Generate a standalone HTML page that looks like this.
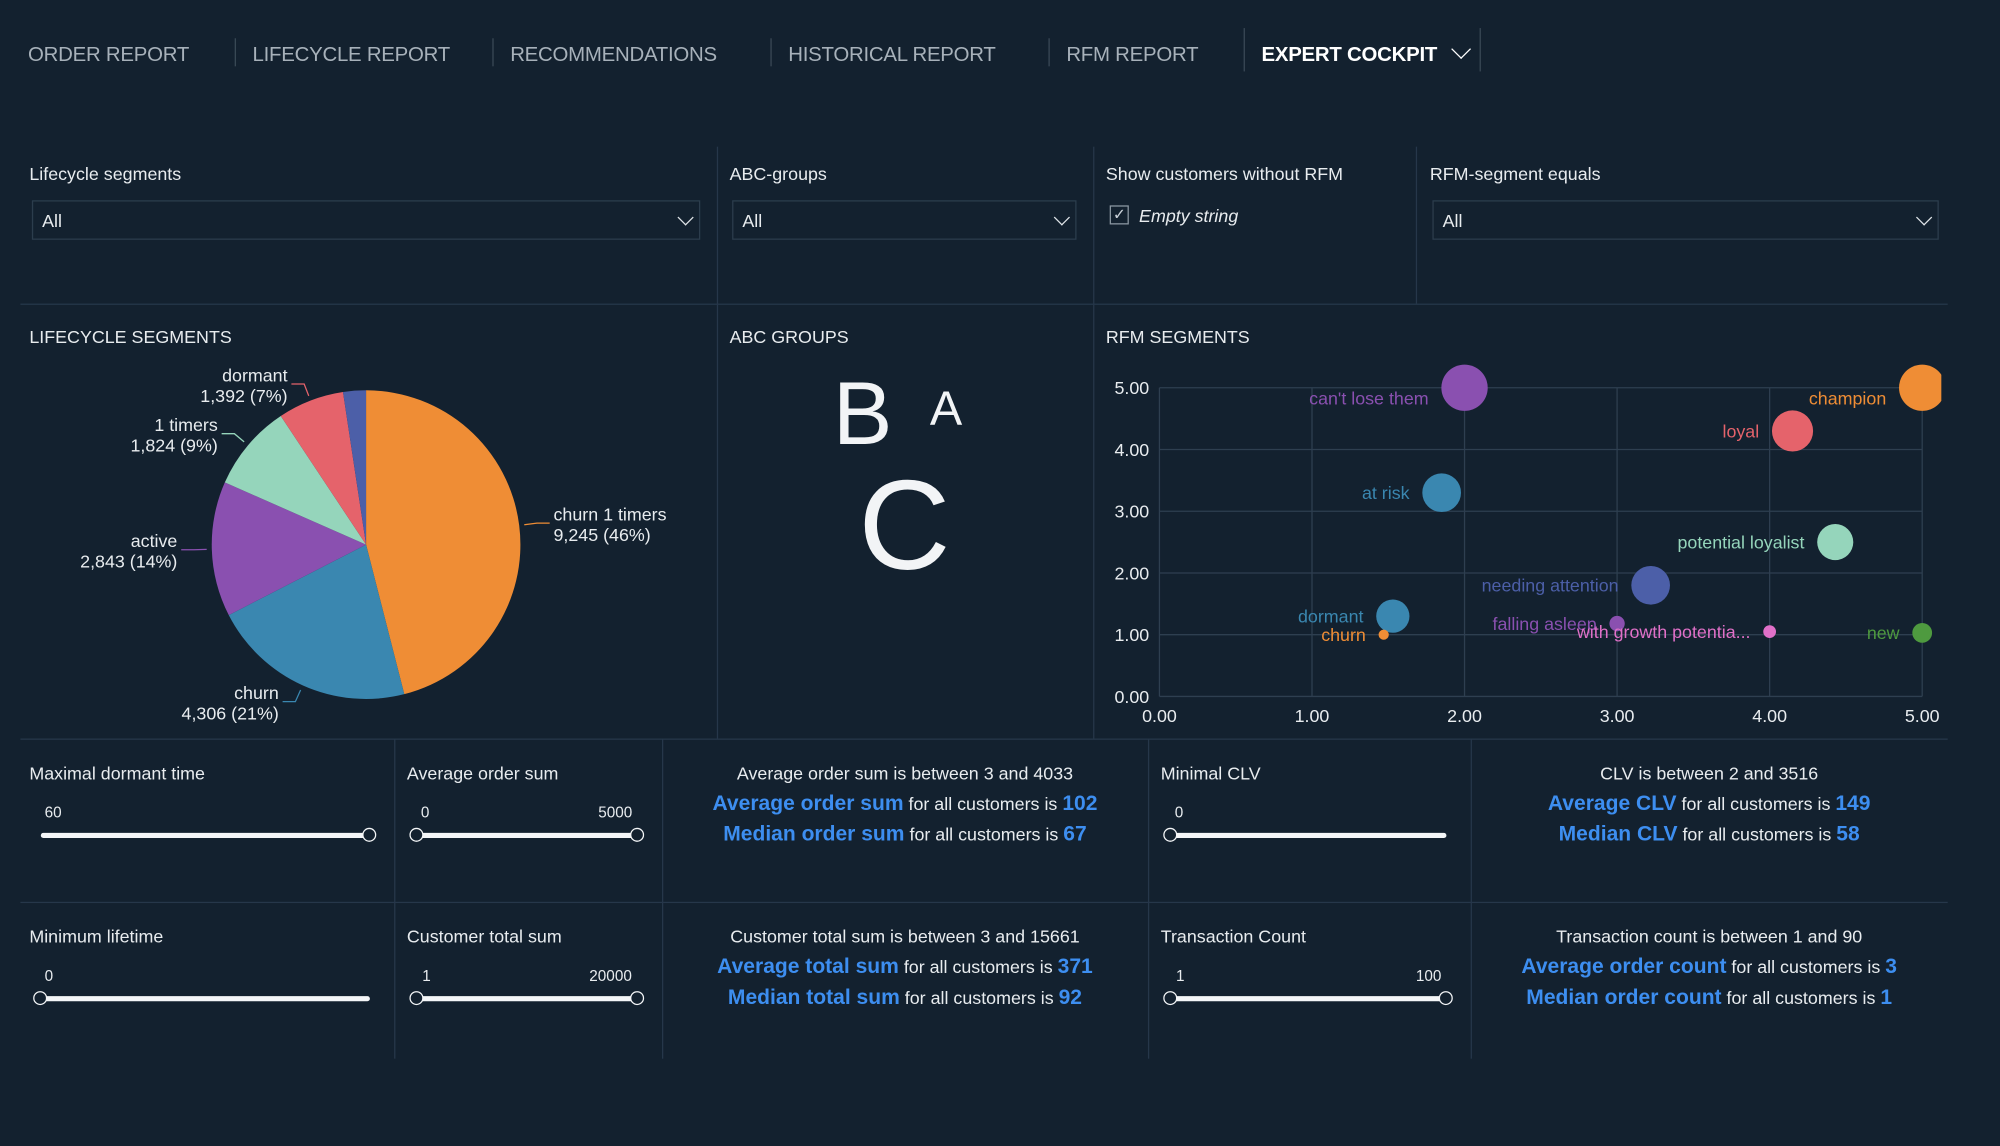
<!DOCTYPE html>
<html><head><meta charset="utf-8">
<style>
html,body{margin:0;padding:0;background:#13212f;width:2000px;height:1146px;overflow:hidden}
#wrap{position:absolute;left:0;top:0;width:1568px;height:898px;transform:scale(1.27551);transform-origin:0 0;font-family:"Liberation Sans",sans-serif;color:#e8ecef}
.a{position:absolute;white-space:nowrap}
.nav{font-size:16px;color:#a7b1ba;top:35px;letter-spacing:-0.2px}
.sep{position:absolute;width:1px;background:#3a4956}
.hl{position:absolute;height:1px;background:#26374a}
.vl{position:absolute;width:1px;background:#26374a}
.lbl{font-size:14px;color:#e8ecef}
.sel{position:absolute;height:31px;border:1px solid #2c3d4d;box-sizing:border-box;background:#13212f}
.sel span{position:absolute;left:7px;top:7px;font-size:14px}
.chev{position:absolute;right:6px;top:8px;width:8px;height:8px;border-right:1.5px solid #dfe4e8;border-bottom:1.5px solid #dfe4e8;transform:rotate(45deg)}
.tick{font-size:12px;color:#e8ecef}
.track{position:absolute;height:4px;background:#f4f6f8;border-radius:2px}
.knob{position:absolute;width:9px;height:9px;border:1.5px solid #f4f6f8;border-radius:50%;background:#13212f}
.kpi{position:absolute;text-align:center;font-size:14px;line-height:24px}
.b{color:#3d8ef0;font-weight:bold;font-size:16.5px}
</style></head><body>
<div id="wrap">
<div class="a nav" style="left:22px">ORDER REPORT</div>
<div class="sep" style="left:184px;top:30px;height:22px"></div>
<div class="a nav" style="left:198px">LIFECYCLE REPORT</div>
<div class="sep" style="left:386px;top:30px;height:22px"></div>
<div class="a nav" style="left:400px">RECOMMENDATIONS</div>
<div class="sep" style="left:604px;top:30px;height:22px"></div>
<div class="a nav" style="left:618px">HISTORICAL REPORT</div>
<div class="sep" style="left:822px;top:30px;height:22px"></div>
<div class="a nav" style="left:836px">RFM REPORT</div>
<div class="sep" style="left:975px;top:22px;height:34px"></div>
<div class="a nav" style="left:989px;color:#fff;font-weight:bold">EXPERT COCKPIT</div>
<div class="a" style="left:1140px;top:33px;width:10px;height:10px;border-right:1.5px solid #fff;border-bottom:1.5px solid #fff;transform:rotate(45deg)"></div>
<div class="sep" style="left:1160px;top:22px;height:34px"></div>

<div class="vl" style="left:562px;top:115px;height:464px"></div>
<div class="vl" style="left:857px;top:115px;height:464px"></div>
<div class="vl" style="left:1110px;top:115px;height:123px"></div>
<div class="hl" style="left:16px;top:238px;width:1511px"></div>
<div class="hl" style="left:16px;top:579px;width:1511px"></div>
<div class="hl" style="left:16px;top:707px;width:1511px"></div>
<div class="vl" style="left:309px;top:579px;height:251px"></div>
<div class="vl" style="left:519px;top:579px;height:251px"></div>
<div class="vl" style="left:900px;top:579px;height:251px"></div>
<div class="vl" style="left:1153px;top:579px;height:251px"></div>

<div class="a lbl" style="left:23px;top:128px">Lifecycle segments</div>
<div class="sel" style="left:25px;top:157px;width:524px"><span>All</span><div class="chev"></div></div>
<div class="a lbl" style="left:572px;top:128px">ABC-groups</div>
<div class="sel" style="left:574px;top:157px;width:270px"><span>All</span><div class="chev"></div></div>
<div class="a lbl" style="left:867px;top:128px">Show customers without RFM</div>
<div class="a" style="left:870px;top:161px;width:15px;height:15px;border:1px solid #8b97a2;box-sizing:border-box;font-size:12px;line-height:13px;text-align:center;color:#c9d1d8">✓</div>
<div class="a lbl" style="left:893px;top:161px;font-style:italic">Empty string</div>
<div class="a lbl" style="left:1121px;top:128px">RFM-segment equals</div>
<div class="sel" style="left:1123px;top:157px;width:397px"><span>All</span><div class="chev"></div></div>

<div class="a lbl" style="left:23px;top:256px">LIFECYCLE SEGMENTS</div>
<div class="a lbl" style="left:572px;top:256px">ABC GROUPS</div>
<div class="a lbl" style="left:867px;top:256px">RFM SEGMENTS</div>

<div class="a" style="left:653px;top:284px;font-size:70px;color:#f2f4f6">B</div>
<div class="a" style="left:729px;top:300px;font-size:38px;color:#f2f4f6">A</div>
<div class="a" style="left:673px;top:362px;font-size:100px;color:#f2f4f6;line-height:1">C</div>

<svg id="pie" class="a" style="left:0;top:0" width="560" height="580"></svg>
<svg id="sc" class="a" style="left:857px;top:240px" width="700" height="340"></svg>

<div class="a lbl" style="left:23px;top:598px">Maximal dormant time</div>
<div class="a tick" style="left:35px;top:630px">60</div>
<div class="track" style="left:32px;top:653px;width:258px"></div>
<div class="knob" style="left:284px;top:649px"></div>

<div class="a lbl" style="left:319px;top:598px">Average order sum</div>
<div class="a tick" style="left:330px;top:630px">0</div><div class="a tick" style="left:469px;top:630px">5000</div>
<div class="track" style="left:327px;top:653px;width:173px"></div>
<div class="knob" style="left:321px;top:649px"></div>
<div class="knob" style="left:494px;top:649px"></div>

<div class="kpi" style="left:519px;top:594px;width:381px">Average order sum is between 3 and 4033<br><span class="b">Average order sum</span> for all customers is <span class="b">102</span><br><span class="b">Median order sum</span> for all customers is <span class="b">67</span></div>

<div class="a lbl" style="left:910px;top:598px">Minimal CLV</div>
<div class="a tick" style="left:921px;top:630px">0</div>
<div class="track" style="left:918px;top:653px;width:216px"></div>
<div class="knob" style="left:912px;top:649px"></div>

<div class="kpi" style="left:1153px;top:594px;width:374px">CLV is between 2 and 3516<br><span class="b">Average CLV</span> for all customers is <span class="b">149</span><br><span class="b">Median CLV</span> for all customers is <span class="b">58</span></div>

<div class="a lbl" style="left:23px;top:726px">Minimum lifetime</div>
<div class="a tick" style="left:35px;top:758px">0</div>
<div class="track" style="left:32px;top:781px;width:258px"></div>
<div class="knob" style="left:26px;top:777px"></div>

<div class="a lbl" style="left:319px;top:726px">Customer total sum</div>
<div class="a tick" style="left:331px;top:758px">1</div><div class="a tick" style="left:462px;top:758px">20000</div>
<div class="track" style="left:327px;top:781px;width:173px"></div>
<div class="knob" style="left:321px;top:777px"></div>
<div class="knob" style="left:494px;top:777px"></div>

<div class="kpi" style="left:519px;top:722px;width:381px">Customer total sum is between 3 and 15661<br><span class="b">Average total sum</span> for all customers is <span class="b">371</span><br><span class="b">Median total sum</span> for all customers is <span class="b">92</span></div>

<div class="a lbl" style="left:910px;top:726px">Transaction Count</div>
<div class="a tick" style="left:922px;top:758px">1</div><div class="a tick" style="left:1110px;top:758px">100</div>
<div class="track" style="left:918px;top:781px;width:216px"></div>
<div class="knob" style="left:912px;top:777px"></div>
<div class="knob" style="left:1128px;top:777px"></div>

<div class="kpi" style="left:1153px;top:722px;width:374px">Transaction count is between 1 and 90<br><span class="b">Average order count</span> for all customers is <span class="b">3</span><br><span class="b">Median order count</span> for all customers is <span class="b">1</span></div>
</div>

<script>
const pieLabels=["churn 1 timers","churn","active","1 timers","dormant","other"];
const pieValues=[9245,4306,2843,1824,1392,480];
const piePct=["46%","21%","14%","9%","7%",""];
const pieColors=["#ef8d35","#3a87b0","#8a50b0","#95d5bb","#e5636b","#4c5fa8"];

const rfmNames=["can't lose them","champion","loyal","at risk","potential loyalist","needing attention","dormant","churn","falling asleep","with growth potentia...","new"];
const rfmX=[2.0,5.0,4.15,1.85,4.43,3.22,1.53,1.47,3.0,4.0,5.0];
const rfmY=[5.0,5.0,4.3,3.3,2.5,1.8,1.3,1.0,1.18,1.05,1.03];
const rfmSize=[330,330,260,230,200,230,170,16,36,25,60];
const rfmColors=["#8a50b0","#ef8d35","#e5636b","#3a87b0","#95d5bb","#4c5fa8","#3a87b0","#ef8d35","#8a50b0","#e070c8","#4e9a3f"];
const ticks=[0,1,2,3,4,5];

const NS="http://www.w3.org/2000/svg";
function mk(p,t,a){const e=document.createElementNS(NS,t);for(const k in a)e.setAttribute(k,a[k]);p.appendChild(e);return e;}

const pie=document.getElementById('pie');
const cx=287,cy=427,R=121;
const tot=pieValues.reduce((a,b)=>a+b,0);
let ang=0;
const fmt=n=>n.toLocaleString('en-US');
pieValues.forEach((v,i)=>{
  const a0=ang,a1=ang+v/tot*2*Math.PI;ang=a1;
  const p0=[cx+R*Math.sin(a0),cy-R*Math.cos(a0)],p1=[cx+R*Math.sin(a1),cy-R*Math.cos(a1)];
  const s=mk(pie,'path',{d:`M${cx},${cy}L${p0[0]},${p0[1]}A${R},${R} 0 ${a1-a0>Math.PI?1:0} 1 ${p1[0]},${p1[1]}Z`,fill:pieColors[i]});
  
  
  if(!piePct[i])return;
  const am=(a0+a1)/2,sx=Math.sin(am),cyy=-Math.cos(am);
  const e1=[cx+(R+4)*sx,cy+(R+4)*cyy],e2=[cx+(R+14)*sx,cy+(R+14)*cyy];
  const right=sx>0;
  const e3=[e2[0]+(right?10:-10),e2[1]];
  mk(pie,'polyline',{points:`${e1} ${e2} ${e3}`,fill:'none',stroke:pieColors[i],'stroke-width':1});
  const tx=right?e3[0]+3:e3[0]-3,anchor=right?'start':'end';
  const t=mk(pie,'text',{x:tx,y:e3[1]-2,'text-anchor':anchor,fill:'#e8ecef','font-size':14,'font-family':'Liberation Sans'});
  t.textContent=pieLabels[i];
  
  
  const t2=mk(pie,'text',{x:tx,y:e3[1]+14,'text-anchor':anchor,fill:'#e8ecef','font-size':14,'font-family':'Liberation Sans'});
  t2.textContent=fmt(pieValues[i])+' ('+piePct[i]+')';
});

const sc=document.getElementById('sc');
const X0=52,X1=650,Y0=306,Y1=64;
const xs=v=>X0+(X1-X0)*v/5, ys=v=>Y0-(Y0-Y1)*v/5;
mk(sc,'defs',{}).innerHTML='<clipPath id="cp"><rect x="0" y="0" width="'+(X1+15)+'" height="340"/></clipPath>';
ticks.forEach(t=>{
  mk(sc,'line',{x1:X0,x2:X1,y1:ys(t),y2:ys(t),stroke:'#2e3f50','stroke-width':1});
  mk(sc,'line',{x1:xs(t),x2:xs(t),y1:Y1,y2:Y0,stroke:'#2e3f50','stroke-width':1});
  const ty=mk(sc,'text',{x:X0-8,y:ys(t)+5,'text-anchor':'end',fill:'#e8ecef','font-size':14,'font-family':'Liberation Sans'});
  ty.textContent=t.toFixed(2);
  
  
  const tx=mk(sc,'text',{x:xs(t),y:Y0+20,'text-anchor':'middle',fill:'#e8ecef','font-size':14,'font-family':'Liberation Sans'});
  tx.textContent=t.toFixed(2);
  
  
});
const g=mk(sc,'g',{'clip-path':'url(#cp)'});
rfmNames.forEach((n,i)=>{
  const r=Math.sqrt(rfmSize[i]);
  const c=mk(g,'circle',{cx:xs(rfmX[i]),cy:ys(rfmY[i]),r:r,fill:rfmColors[i]});
  
  
  const t=mk(sc,'text',{x:xs(rfmX[i])-r-10,y:ys(rfmY[i])+(i<2?13:5),'text-anchor':'end',fill:rfmColors[i],'font-size':14,'font-family':'Liberation Sans'});
  t.textContent=n;
  
  
});
</script>
</body></html>
